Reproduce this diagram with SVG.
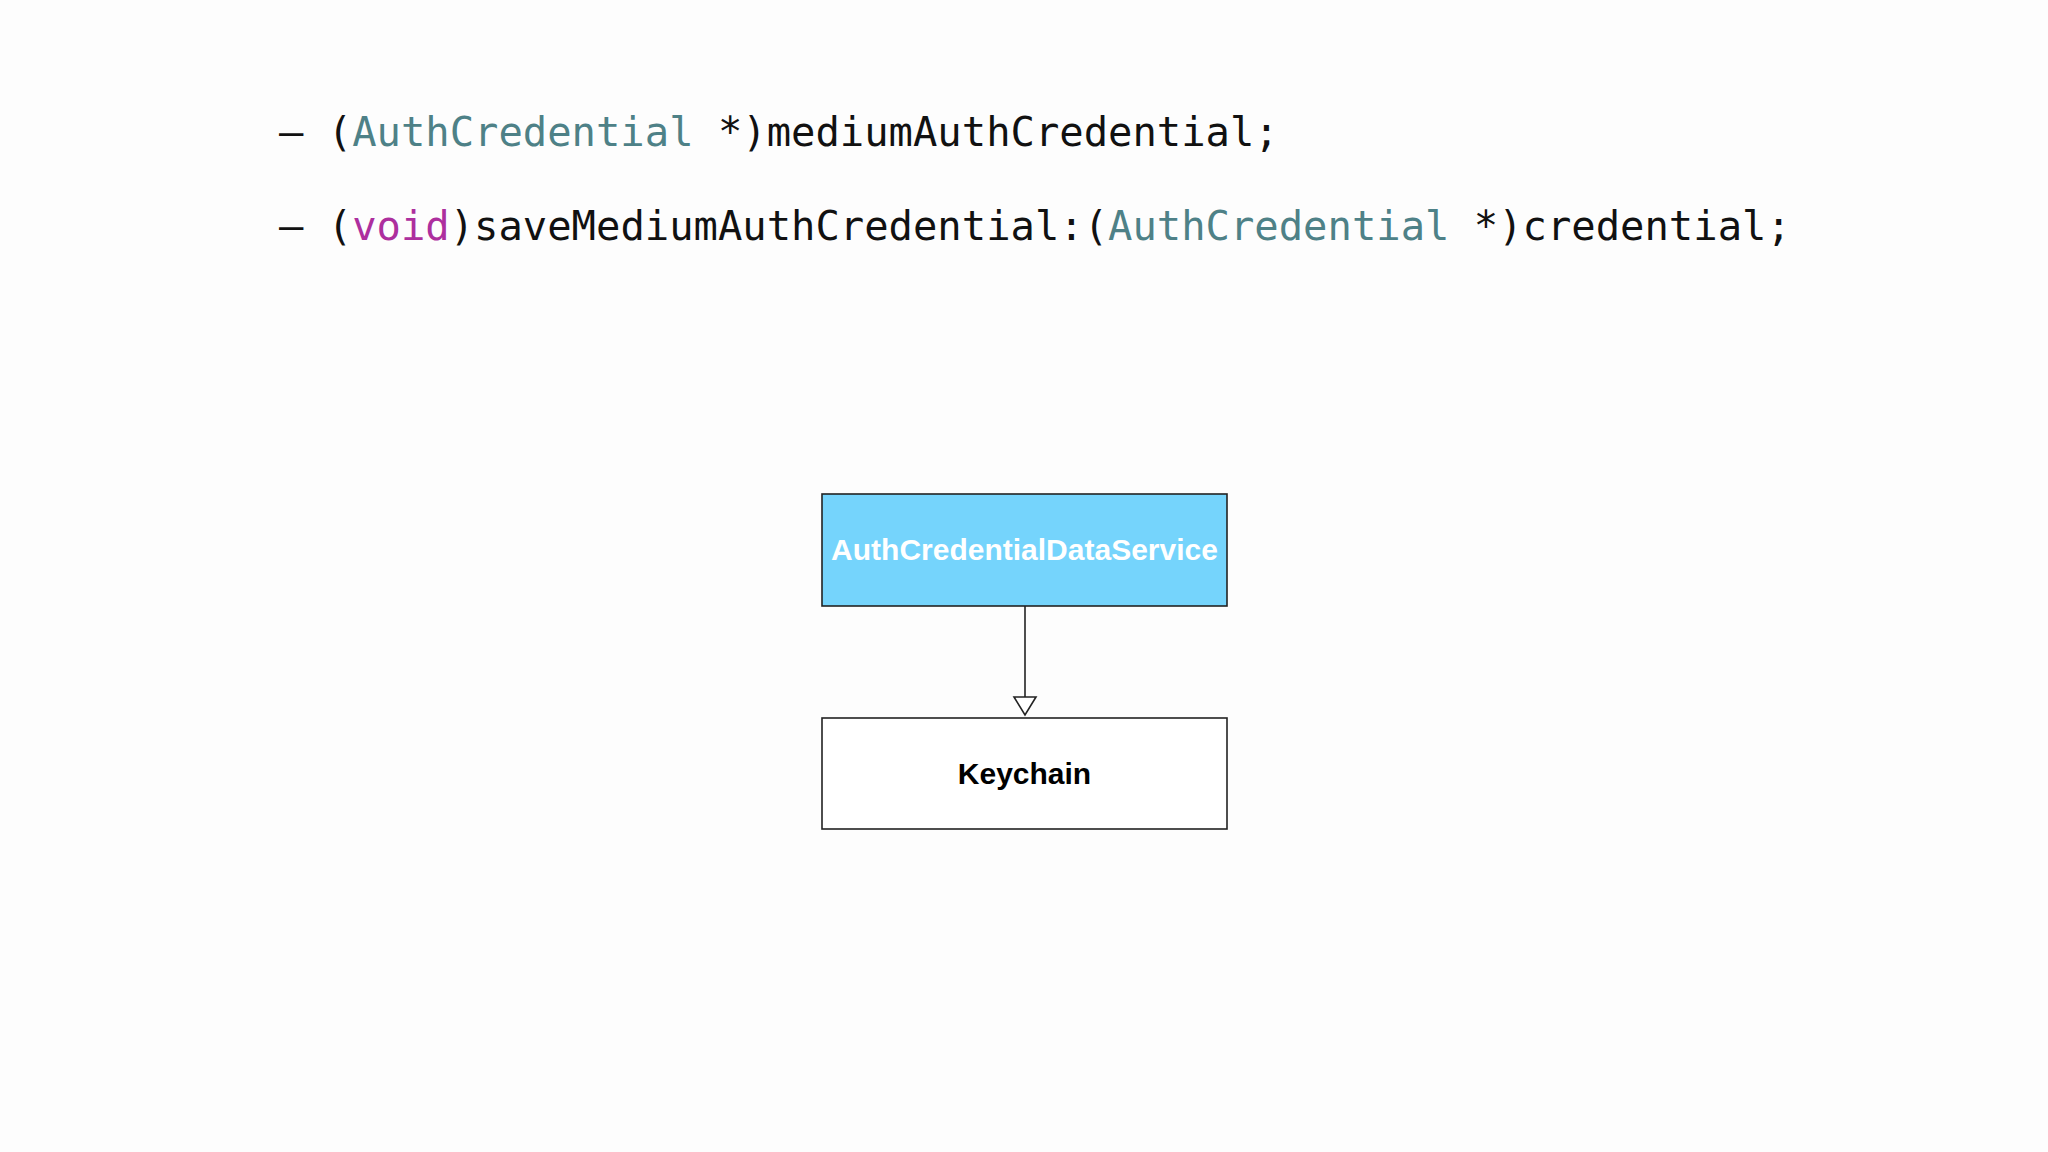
<svg xmlns="http://www.w3.org/2000/svg" width="2048" height="1152" viewBox="0 0 2048 1152">
<style>
.code{font-family:"DejaVu Sans Mono","Liberation Mono",monospace;font-size:40.5px;fill:#111}
.cls{fill:#4E8187}
.kw{fill:#AD2F9E}
.box{stroke:#222;stroke-width:1.6}
.lbl{font-family:"Liberation Sans",Arial,sans-serif;font-weight:bold;font-size:30px;text-anchor:middle}
</style>
<rect width="2048" height="1152" fill="#FDFDFD"/>
<g id="code">
<text class="code" x="279" y="146">– (<tspan class="cls">AuthCredential</tspan> *)mediumAuthCredential;</text>
<text class="code" x="279" y="240">– (<tspan class="kw">void</tspan>)saveMediumAuthCredential:(<tspan class="cls">AuthCredential</tspan> *)credential;</text>
</g>
<g id="connectors">
<line x1="1025" y1="606" x2="1025" y2="697" stroke="#222" stroke-width="1.6"/>
<path d="M1014,697 L1036,697 L1025,715 Z" fill="#fff" stroke="#222" stroke-width="1.6"/>
</g>
<g id="node-service">
<rect class="box" x="822" y="494" width="405" height="112" fill="#75D4FC"/>
<text class="lbl" x="1024.5" y="560" fill="#fff">AuthCredentialDataService</text>
</g>
<g id="node-keychain">
<rect class="box" x="822" y="718" width="405" height="111" fill="#fff"/>
<text class="lbl" x="1024.5" y="784" fill="#000">Keychain</text>
</g>
</svg>
